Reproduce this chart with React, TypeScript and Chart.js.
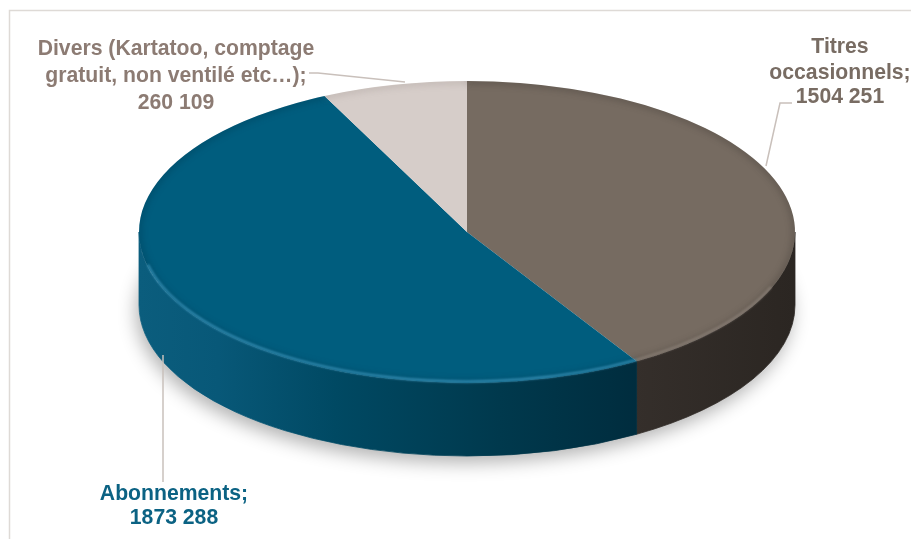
import React, { useEffect, useRef } from 'react';
import { Chart, registerables } from 'chart.js';

Chart.register(...registerables);

// ---- data ----
const categories = [
  'Titres occasionnels',
  'Abonnements',
  'Divers (Kartatoo, comptage gratuit, non ventilé etc…)',
];
const values = [1504251, 1873288, 260109];
const labelNameLines = [
  ['Titres', 'occasionnels;'],
  ['Abonnements;'],
  ['Divers (Kartatoo, comptage', 'gratuit, non ventilé etc…);'],
];

const fmt = (v: number) => `${Math.floor(v / 1000)} ${String(v % 1000).padStart(3, '0')}`;

// ---- styles ----
const topColors = ['#766b61', '#005d7e', '#d6cdc9'];
const textColors = ['#786c63', '#0b6283', '#8c7b73'];
const ASPECT = 328 / 151;
const DEPTH = 73 / 151;
const FONT = "bold 21.2px 'Liberation Sans', Arial, sans-serif";

// label layout: centre x, baselines, leader polyline
const labelLayout = [
  { x: 840, ys: [53, 78.5, 102.5], leader: [[792, 103], [780, 103], [766, 166]] },
  { x: 174, ys: [500, 524], leader: [[163, 355], [163, 482]] },
  { x: 176, ys: [55, 82, 109], leader: [[309, 73], [318, 73], [405, 82]] },
];

function frontSegs(s: number, e: number) {
  const out: [number, number][] = [];
  for (let k = -2; k <= 2; k++) {
    const lo = Math.max(s, k * 2 * Math.PI);
    const hi = Math.min(e, k * 2 * Math.PI + Math.PI);
    if (hi > lo) out.push([lo, hi]);
  }
  return out;
}

function sideFill(ctx: CanvasRenderingContext2D, i: number, cx: number, rx: number) {
  const g = ctx.createLinearGradient(cx - rx, 0, cx + rx, 0);
  if (i === 1) {
    g.addColorStop(0, '#0b5d7d');
    g.addColorStop(0.12, '#085878');
    g.addColorStop(0.3, '#004963');
    g.addColorStop(0.55, '#00394d');
    g.addColorStop(0.8, '#002a3b');
    g.addColorStop(1, '#00222f');
  } else if (i === 0) {
    g.addColorStop(0, '#3a332e');
    g.addColorStop(0.75, '#352f2b');
    g.addColorStop(1, '#2b2622');
  } else {
    g.addColorStop(0, '#a59c97');
    g.addColorStop(1, '#8a817c');
  }
  return g;
}

const framePlugin = {
  id: 'frame',
  beforeDraw(chart: any) {
    const ctx: CanvasRenderingContext2D = chart.ctx;
    ctx.save();
    ctx.strokeStyle = '#dedad6';
    ctx.lineWidth = 1.5;
    ctx.beginPath();
    ctx.moveTo(9.5, 539);
    ctx.lineTo(9.5, 10.5);
    ctx.lineTo(911, 10.5);
    ctx.stroke();
    ctx.restore();
  },
};

const pie3dPlugin = {
  id: 'pie3d',
  beforeDatasetsDraw(chart: any) {
    const ctx: CanvasRenderingContext2D = chart.ctx;
    const arcs = chart.getDatasetMeta(0).data;
    if (!arcs.length) return;
    const a0 = arcs[0];
    const cx = a0.x, cy = a0.y, R = a0.outerRadius;
    const rx = R * ASPECT, ry = R, d = R * DEPTH;

    // soft shadow
    ctx.save();
    ctx.shadowColor = 'rgba(0,0,0,0.30)';
    ctx.shadowBlur = 18;
    ctx.shadowOffsetY = 7;
    ctx.shadowOffsetX = -3;
    ctx.beginPath();
    ctx.ellipse(cx, cy + d, rx, ry, 0, 0, Math.PI * 2);
    ctx.fillStyle = '#ffffff';
    ctx.fill();
    ctx.restore();

    // side walls
    arcs.forEach((a: any, i: number) => {
      frontSegs(a.startAngle, a.endAngle).forEach(([s, e]) => {
        ctx.save();
        ctx.beginPath();
        ctx.moveTo(cx + rx * Math.cos(s), cy + ry * Math.sin(s));
        ctx.ellipse(cx, cy, rx, ry, 0, s, e, false);
        ctx.lineTo(cx + rx * Math.cos(e), cy + ry * Math.sin(e) + d);
        ctx.ellipse(cx, cy + d, rx, ry, 0, e, s, true);
        ctx.closePath();
        ctx.fillStyle = sideFill(ctx, i, cx, rx);
        ctx.fill();
        ctx.strokeStyle = sideFill(ctx, i, cx, rx);
        ctx.lineWidth = 0.8;
        ctx.stroke();
        ctx.restore();
      });
    });

    // squash the library's arcs into an ellipse
    ctx.save();
    ctx.translate(cx, cy);
    ctx.scale(ASPECT, 1);
    ctx.translate(-cx, -cy);
  },
  afterDatasetsDraw(chart: any) {
    const ctx: CanvasRenderingContext2D = chart.ctx;
    ctx.restore();
    const arcs = chart.getDatasetMeta(0).data;
    if (!arcs.length) return;
    const a0 = arcs[0];
    const cx = a0.x, cy = a0.y, R = a0.outerRadius;
    const rx = R * ASPECT, ry = R;
    const rimLight = ['rgba(160,150,140,0.55)', 'rgba(70,160,200,0.75)', 'rgba(240,235,232,0.6)'];
    const rimDark = ['rgba(40,34,30,0.25)', 'rgba(0,40,60,0.25)', 'rgba(120,110,105,0.2)'];
    ctx.save();
    ctx.beginPath();
    ctx.ellipse(cx, cy, rx, ry, 0, 0, Math.PI * 2);
    ctx.clip();
    arcs.forEach((a: any, i: number) => {
      ctx.filter = 'blur(3px)';
      ctx.beginPath();
      ctx.ellipse(cx, cy, rx, ry, 0, a.startAngle, a.endAngle);
      ctx.lineWidth = 6;
      ctx.strokeStyle = rimDark[i];
      ctx.stroke();
    });
    ctx.restore();
    // highlight on front edge
    ctx.save();
    arcs.forEach((a: any, i: number) => {
      frontSegs(a.startAngle, a.endAngle).forEach(([s, e]) => {
        const s2 = Math.max(s, 0.12 * Math.PI), e2 = Math.min(e, 0.93 * Math.PI);
        if (e2 <= s2) return;
        ctx.filter = 'blur(1.2px)';
        ctx.beginPath();
        ctx.ellipse(cx, cy, rx - 1, ry - 1.5, 0, s2, e2);
        ctx.lineWidth = 2.2;
        ctx.strokeStyle = rimLight[i];
        ctx.stroke();
      });
    });
    ctx.restore();
  },
};

const labelPlugin = {
  id: 'labels3d',
  afterDraw(chart: any) {
    const ctx: CanvasRenderingContext2D = chart.ctx;
    ctx.save();
    labelLayout.forEach((lay, i) => {
      ctx.strokeStyle = '#c9c0bb';
      ctx.lineWidth = 1.5;
      ctx.beginPath();
      lay.leader.forEach(([x, y], k) => (k === 0 ? ctx.moveTo(x, y) : ctx.lineTo(x, y)));
      ctx.stroke();
      const lines = [...labelNameLines[i], fmt(values[i])];
      ctx.font = FONT;
      ctx.fillStyle = textColors[i];
      ctx.textAlign = 'center';
      ctx.textBaseline = 'alphabetic';
      lines.forEach((t, k) => ctx.fillText(t, lay.x, lay.ys[k]));
    });
    ctx.restore();
  },
};

export default function App() {
  const ref = useRef<HTMLCanvasElement>(null);
  useEffect(() => {
    const canvas = ref.current!;
    const chart = new Chart(canvas, {
      type: 'pie',
      data: {
        labels: categories,
        datasets: [
          {
            data: values,
            backgroundColor: topColors,
            borderWidth: 0,
            hoverOffset: 0,
            clip: false,
          } as any,
        ],
      },
      options: {
        responsive: false,
        animation: false,
        events: [],
        layout: { padding: { top: 81, bottom: 156, left: 316, right: 293 } },
        plugins: { legend: { display: false }, tooltip: { enabled: false } },
      } as any,
      plugins: [framePlugin, pie3dPlugin, labelPlugin],
    });
    return () => chart.destroy();
  }, []);
  return (
    <div style={{ position: 'absolute', left: 0, top: 0, width: 911, height: 539, background: '#fff' }}>
      <canvas ref={ref} width={911} height={539} style={{ display: 'block' }} />
    </div>
  );
}
